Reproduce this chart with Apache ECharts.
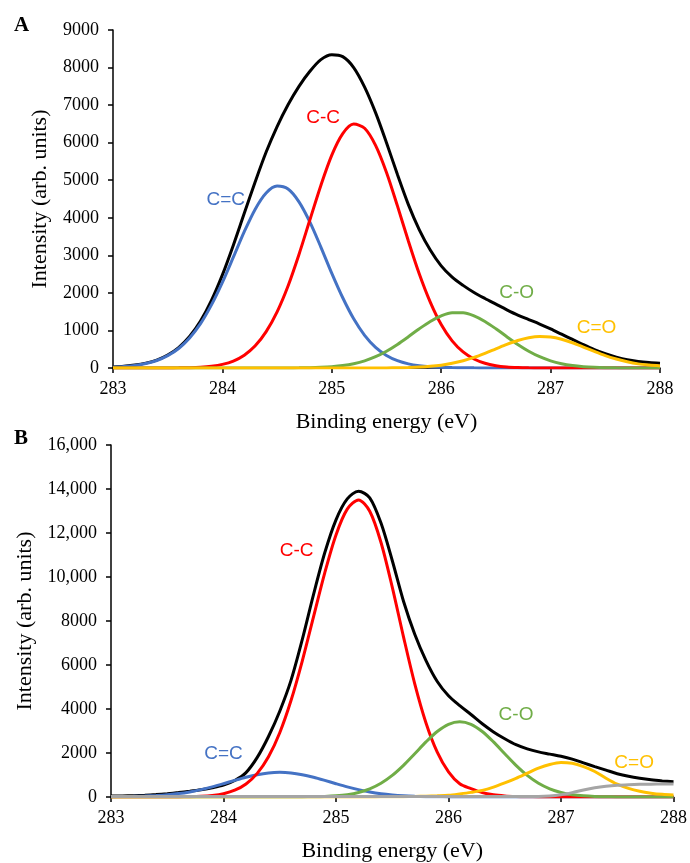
<!DOCTYPE html>
<html><head><meta charset="utf-8">
<script src="https://cdn.jsdelivr.net/npm/echarts@6/dist/echarts.min.js"></script>
<style>html,body{margin:0;padding:0;background:#fff}#c{width:690px;height:863px}</style>
</head><body><div id="c"></div>
<script>
// Binding energy grid (eV)
const energy = [283.0,283.1,283.2,283.3,283.4,283.5,283.6,283.7,283.8,283.9,
284.0,284.1,284.2,284.3,284.4,284.5,284.6,284.7,284.8,284.9,
285.0,285.1,285.2,285.3,285.4,285.5,285.6,285.7,285.8,285.9,
286.0,286.1,286.2,286.3,286.4,286.5,286.6,286.7,286.8,286.9,
287.0,287.1,287.2,287.3,287.4,287.5,287.6,287.7,287.8,287.9,288.0];

// Panel A
const A_total = [30,50,80,130,210,345,545,840,1250,1800,
2480,3270,4120,4960,5750,6430,7010,7500,7900,8210,
8340,8290,8000,7480,6800,6000,5150,4350,3680,3140,
2720,2420,2200,2010,1850,1700,1550,1410,1290,1170,
1040,900,760,620,490,380,290,220,175,145,125];
const A_CdC = [20,40,70,120,200,330,520,800,1180,1680,
2280,2950,3630,4230,4660,4845,4765,4425,3885,3220,
2520,1870,1310,870,550,335,195,110,62,35,
20,12,7,4,2,0,0,0,0,0,
0,0,0,0,0,0,0,0,0,0,0];
const A_CC = [0,0,0,0,1,2,4,9,21,47,
96,186,341,590,969,1495,2184,3023,3946,4862,
5668,6240,6494,6383,5928,5207,4316,3380,2503,1755,
1157,722,427,239,125,62,29,13,5,2,
0,0,0,0,0,0,0,0,0,0,0];
const A_CO = [0,0,0,0,0,0,0,0,0,0,
0,0,0,0,0,0,2,4,8,18,
35,65,115,191,300,447,628,833,1046,1240,
1388,1470,1470,1388,1240,1046,833,628,447,300,
191,115,65,35,18,8,4,2,1,0,0];
const A_CdO = [0,0,0,0,0,0,0,0,0,0,
0,0,0,0,0,0,0,0,0,0,
0,0,0,1,2,3,6,12,24,44,
76,125,193,282,391,510,628,732,806,839,
825,766,673,558,440,330,240,165,110,78,55];

// Panel B
const B_total = [40,50,60,80,110,150,200,260,330,420,
540,750,1110,1800,2750,3900,5300,7150,9200,11100,
12600,13550,13900,13600,12450,10750,8900,7400,6200,5250,
4600,4150,3750,3330,2960,2650,2380,2190,2050,1950,
1850,1720,1550,1380,1220,1060,940,850,780,730,690];
const B_CdC = [15,22,30,45,70,105,155,231,334,460,
604,755,897,1015,1093,1120,1093,1015,897,755,
604,460,334,231,151,95,56,32,17,9,
4,2,0,0,0,0,0,0,0,0,
0,0,0,0,0,0,0,0,0,0,0];
const B_CC = [0,0,0,0,1,2,5,12,29,69,
150,308,593,1074,1827,2921,4383,6180,8188,10190,
11914,13085,13500,12989,11570,9540,7280,5145,3367,2040,
1143,600,380,200,100,50,25,12,5,2,
0,0,0,0,0,0,0,0,0,0,0];
const B_CO = [0,0,0,0,0,0,0,0,0,0,
0,0,0,0,0,0,0,4,10,23,
52,107,207,373,626,982,1440,1967,2503,2979,
3304,3420,3304,2979,2503,1967,1440,982,626,373,
207,107,52,23,10,4,1,0,0,0,0];
const B_CdO = [0,0,0,0,0,0,0,0,0,0,
0,0,0,0,0,0,0,0,0,0,
0,0,0,3,6,10,16,24,36,54,
80,140,210,300,450,640,850,1080,1310,1480,
1570,1530,1380,1160,850,580,390,260,175,120,90];
const B_bg = [20,20,20,20,20,20,20,20,20,20,
20,20,20,20,20,20,20,20,20,20,
20,20,20,20,20,20,20,20,20,20,
20,20,20,20,20,20,20,20,20,40,
100,200,320,420,490,535,560,575,585,590,590];

// Peak label annotations [text, energy, intensity]
const labelsA = [['C=C',284.03,4470],['C-C',284.92,6650],['C-O',286.69,2000],['C=O',287.42,1065]];
const labelsB = [['C=C',284.0,1950],['C-C',284.65,11200],['C-O',286.60,3760],['C=O',287.65,1570]];

const COL = {total:'#000000', CdC:'#4472C4', CC:'#FF0000', CO:'#70AD47', CdO:'#FFC000', bg:'#A5A5A5'};
const serif = 'Liberation Serif, Times New Roman, serif';
const sans = 'Liberation Sans, Arial, sans-serif';

function pts(arr){ return energy.map((e,i)=>[e, arr[i]]); }
function mk(lbl, color){
  return {symbol:'circle', symbolSize:0, silent:true,
    label:{show:true, position:'inside', formatter:lbl[0], color:color, fontSize:19, fontFamily:sans},
    data:[{coord:[lbl[1], lbl[2]]}]};
}
function line(name, arr, color, gi, lbl, w){
  const s = {name:name, type:'line', xAxisIndex:gi, yAxisIndex:gi, data:pts(arr), smooth:0.3,
    showSymbol:false, symbol:'none', lineStyle:{color:color, width:w||3}, itemStyle:{color:color}};
  if (lbl) s.markPoint = mk(lbl, color);
  return s;
}
function xAx(gi){
  return {type:'value', gridIndex:gi, min:283, max:288, interval:1,
    name:'Binding energy (eV)', nameLocation:'middle', nameGap:43,
    nameTextStyle:{fontFamily:serif, fontSize:22, color:'#000'},
    axisLine:{onZero:false, lineStyle:{color:'#000', width:1.5}},
    axisTick:{show:true, length:5, inside:false, lineStyle:{color:'#000', width:1.5}},
    axisLabel:{fontFamily:serif, fontSize:18, color:'#000', margin:12},
    splitLine:{show:false}};
}
function yAx(gi, max, interval, gap){
  return {type:'value', gridIndex:gi, min:0, max:max, interval:interval,
    name:'Intensity (arb. units)', nameLocation:'middle', nameGap:gap,
    nameTextStyle:{fontFamily:serif, fontSize:22, color:'#000'},
    axisLine:{show:true, lineStyle:{color:'#000', width:1.5}},
    axisTick:{show:true, length:5, lineStyle:{color:'#000', width:1.5}},
    axisLabel:{fontFamily:serif, fontSize:18, color:'#000', margin:14,
      formatter:v=> v>=10000 ? v.toLocaleString('en-US') : String(v)},
    splitLine:{show:false}};
}

const chart = echarts.init(document.getElementById('c'), null, {renderer:'canvas'});
chart.setOption({
  animation:false,
  backgroundColor:'#fff',
  grid:[{left:113, top:30, width:547, height:338},
        {left:111, top:445, width:564, height:353}],
  xAxis:[xAx(0), xAx(1)],
  yAxis:[yAx(0, 9000, 1000, 62), yAx(1, 16000, 2000, 66)],
  graphic:[
    {type:'text', left:14, top:15, style:{text:'A', font:'bold 21px '+serif, fill:'#000'}},
    {type:'text', left:14, top:428, style:{text:'B', font:'bold 21px '+serif, fill:'#000'}}
  ],
  series:[
    line('Total', A_total, COL.total, 0),
    line('C=C', A_CdC, COL.CdC, 0, labelsA[0]),
    line('C-C', A_CC, COL.CC, 0, labelsA[1]),
    line('C-O', A_CO, COL.CO, 0, labelsA[2]),
    line('C=O', A_CdO, COL.CdO, 0, labelsA[3]),
    line('Total', B_total, COL.total, 1),
    line('C=C', B_CdC, COL.CdC, 1, labelsB[0]),
    line('C-C', B_CC, COL.CC, 1, labelsB[1]),
    line('C-O', B_CO, COL.CO, 1, labelsB[2]),
    line('C=O', B_CdO, COL.CdO, 1, labelsB[3]),
    line('Background', B_bg, COL.bg, 1)
  ]
});
</script>
</body></html>
